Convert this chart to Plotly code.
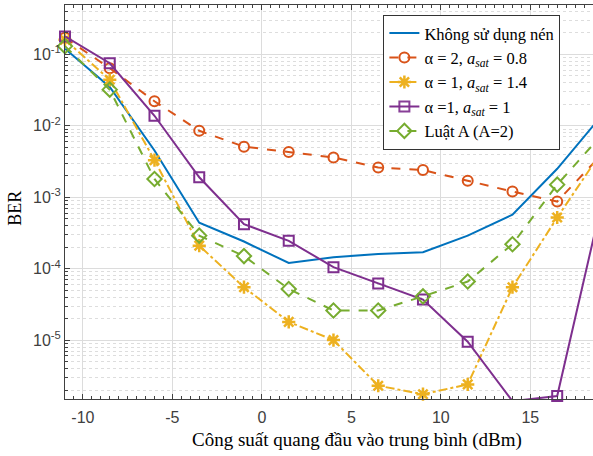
import plotly.graph_objects as go

power_dbm = [-11, -8.5, -6, -3.5, -1, 1.5, 4, 6.5, 9, 11.5, 14, 16.5, 19]

ber_no_comp = [0.12, 0.035, 0.0045, 4.4e-4, 2.4e-4, 1.2e-4, 1.45e-4, 1.6e-4, 1.7e-4, 2.9e-4, 5.7e-4, 2.5e-3, 1.4e-2]
ber_a2_s08 = [0.17, 0.064, 0.022, 0.0085, 0.0051, 0.0043, 0.0036, 0.0026, 0.0024, 0.0017, 0.0012, 8.7e-4, 4.0e-3]
ber_a1_s14 = [0.16, 0.044, 0.0033, 2.1e-4, 5.5e-5, 1.8e-5, 1.0e-5, 2.3e-6, 1.75e-6, 2.4e-6, 5.5e-5, 5.2e-4, 4.4e-3]
ber_a1_s1 = [0.178, 0.075, 0.0138, 1.9e-3, 4.2e-4, 2.45e-4, 1.05e-4, 6.2e-5, 3.7e-5, 9.5e-6, 1.4e-6, 1.65e-6, 8.7e-4]
ber_alaw = [0.13, 0.032, 0.0018, 2.9e-4, 1.5e-4, 5.2e-5, 2.6e-5, 2.6e-5, 4.1e-5, 6.6e-5, 2.2e-4, 1.5e-3, 7.5e-3]

names = [
    "Không sử dụng nén",
    "α = 2, <i>a<sub>sat</sub></i> = 0.8",
    "α = 1, <i>a<sub>sat</sub></i> = 1.4",
    "α =1, <i>a<sub>sat</sub></i> = 1",
    "Luật A (A=2)",
]

y_tickvals = [1e-5, 1e-4, 1e-3, 1e-2, 1e-1]
y_ticktext = ["10<sup>-5</sup>", "10<sup>-4</sup>", "10<sup>-3</sup>", "10<sup>-2</sup>", "10<sup>-1</sup>"]
x_tickvals = [-10, -5, 0, 5, 10, 15]
x_ticktext = ["-10", "-5", "0", "5", "10", "15"]

x_title = "Công suất quang đầu vào trung bình (dBm)"
y_title = "BER"

BLUE = "#0072BD"
ORANGE = "#D95319"
YELLOW = "#EDB120"
PURPLE = "#7E2F8E"
GREEN = "#77AC30"

fig = go.Figure()

fig.add_trace(go.Scatter(x=power_dbm, y=ber_no_comp, name=names[0], mode="lines",
                         line=dict(color=BLUE, width=2)))
fig.add_trace(go.Scatter(x=power_dbm, y=ber_a2_s08, name=names[1], mode="lines+markers",
                         line=dict(color=ORANGE, width=2, dash="dash"),
                         marker=dict(symbol="circle-open", size=10, color=ORANGE, line=dict(width=2)),
                         cliponaxis=False))
fig.add_trace(go.Scatter(x=power_dbm, y=ber_a1_s14, name=names[2], mode="lines+markers",
                         line=dict(color=YELLOW, width=2, dash="dashdot"),
                         marker=dict(symbol="asterisk-open", size=11, color=YELLOW, line=dict(width=2.5, color=YELLOW)),
                         cliponaxis=False))
purple_opacity = [1] * 10 + [0] + [1] * 2
fig.add_trace(go.Scatter(x=power_dbm, y=ber_a1_s1, name=names[3], mode="lines+markers",
                         line=dict(color=PURPLE, width=2),
                         marker=dict(symbol="square-open", size=10, color=PURPLE, line=dict(width=2),
                                     opacity=purple_opacity),
                         cliponaxis=False))
fig.add_trace(go.Scatter(x=power_dbm, y=ber_alaw, name=names[4], mode="lines+markers",
                         line=dict(color=GREEN, width=2, dash="dash"),
                         marker=dict(symbol="diamond-open", size=11, color=GREEN, line=dict(width=2)),
                         cliponaxis=False))

tickfont = dict(family="Liberation Sans, Arial, sans-serif", size=16, color="#404040")
titlefont = dict(family="Liberation Serif, Times New Roman, serif", size=19, color="black")

fig.update_layout(
    width=593, height=456,
    margin=dict(l=65, r=0, t=5, b=57),
    paper_bgcolor="white", plot_bgcolor="white",
    showlegend=True,
    legend=dict(
        x=0.603, y=0.975, xanchor="left", yanchor="top",
        bgcolor="white", bordercolor="#333", borderwidth=1,
        font=dict(family="Liberation Serif, Times New Roman, serif", size=16.5, color="black"),
        tracegroupgap=0, itemwidth=30,
    ),
    xaxis=dict(
        range=[-11, 18.5], tickvals=x_tickvals, ticktext=x_ticktext,
        ticks="inside", ticklen=5, tickcolor="#404040", ticklabelstandoff=4,
        showline=True, linecolor="#404040", linewidth=1, mirror="ticks",
        showgrid=True, gridcolor="#DCDCDC", gridwidth=1, zeroline=False,
        tickfont=tickfont,
        minor=dict(dtick=0.5, ticks="inside", ticklen=3, tickcolor="#404040", showgrid=False),
    ),
    yaxis=dict(
        type="log", range=[-5.824, -0.31], tickvals=y_tickvals, ticktext=y_ticktext,
        ticks="inside", ticklen=5, tickcolor="#404040",
        showline=True, linecolor="#404040", linewidth=1, mirror=False,
        showgrid=True, gridcolor="#DCDCDC", gridwidth=1, zeroline=False,
        tickfont=tickfont,
        minor=dict(dtick="D1", ticks="inside", ticklen=3, tickcolor="#404040",
                   showgrid=True, gridcolor="#DDDDDD", griddash="dot", gridwidth=1),
    ),
    annotations=[
        dict(text=x_title, xref="paper", yref="paper", x=(357 - 65) / 528, y=-0.105,
             xanchor="center", yanchor="middle", showarrow=False, font=titlefont),
        dict(text=y_title, xref="paper", yref="paper", x=-0.095, y=0.485,
             xanchor="center", yanchor="middle", showarrow=False, textangle=-90,
             font=dict(family="Liberation Serif, Times New Roman, serif", size=18, color="black")),
    ],
)

fig.write_html("out.html")
